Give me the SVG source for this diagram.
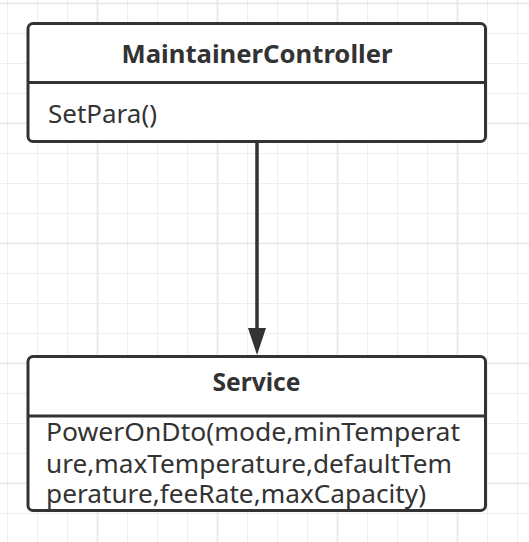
<svg xmlns="http://www.w3.org/2000/svg" width="529" height="542" viewBox="0 0 529 542">
  <defs>
    <pattern id="gridMinor" patternUnits="userSpaceOnUse" x="7" y="3" width="30" height="30">
      <path d="M0 0.5 H30 M0.5 0 V30" fill="none" stroke="#eeeeee" stroke-width="1.2"/>
    </pattern>
    <pattern id="gridMajor" patternUnits="userSpaceOnUse" x="96.5" y="122.5" width="120" height="120">
      <path d="M0 1 H120 M1 0 V120" fill="none" stroke="#e8e8e8" stroke-width="1.6"/>
    </pattern>
    <marker id="arrow" markerUnits="userSpaceOnUse" markerWidth="28" markerHeight="18" refX="12" refY="9" orient="auto">
      <path d="M0,0 L27,9 L0,18 z" fill="#333333"/>
    </marker>
    <style>
      .box { fill: #ffffff; stroke: #333333; stroke-width: 3; }
      .div { stroke: #333333; stroke-width: 3; }
      .title { font-family: "Noto Sans", "Open Sans", sans-serif; font-weight: bold; font-size: 25px; fill: #333333; text-anchor: middle; }
      .body { font-family: "Noto Sans", "Open Sans", sans-serif; font-size: 25px; fill: #333333; }
      .conn { stroke: #333333; stroke-width: 3.5; fill: none; }
    </style>
  </defs>
  <rect width="529" height="542" fill="#ffffff"/>
  <rect width="529" height="542" fill="url(#gridMinor)"/>
  <rect width="529" height="542" fill="url(#gridMajor)"/>

  <g id="connectors">
    <line class="conn" x1="257" y1="143" x2="257" y2="340" marker-end="url(#arrow)"/>
  </g>

  <g id="MaintainerController">
    <rect class="box" x="28" y="23.5" width="457.5" height="118" rx="5"/>
    <line class="div" x1="28" y1="82.5" x2="485.5" y2="82.5"/>
    <text class="title" x="257" y="63" textLength="271" lengthAdjust="spacingAndGlyphs">MaintainerController</text>
    <text class="body" x="48" y="122.5" textLength="109" lengthAdjust="spacingAndGlyphs">SetPara()</text>
  </g>

  <g id="Service">
    <rect class="box" x="28" y="356.5" width="457.5" height="154" rx="5"/>
    <line class="div" x1="28" y1="416" x2="485.5" y2="416"/>
    <text class="title" x="256.5" y="391" textLength="88" lengthAdjust="spacingAndGlyphs">Service</text>
    <text class="body" x="46" y="441" textLength="414" lengthAdjust="spacingAndGlyphs">PowerOnDto(mode,minTemperat</text>
    <text class="body" x="46" y="473" textLength="406" lengthAdjust="spacingAndGlyphs">ure,maxTemperature,defaultTem</text>
    <text class="body" x="46" y="503" textLength="380" lengthAdjust="spacingAndGlyphs">perature,feeRate,maxCapacity)</text>
  </g>
</svg>
